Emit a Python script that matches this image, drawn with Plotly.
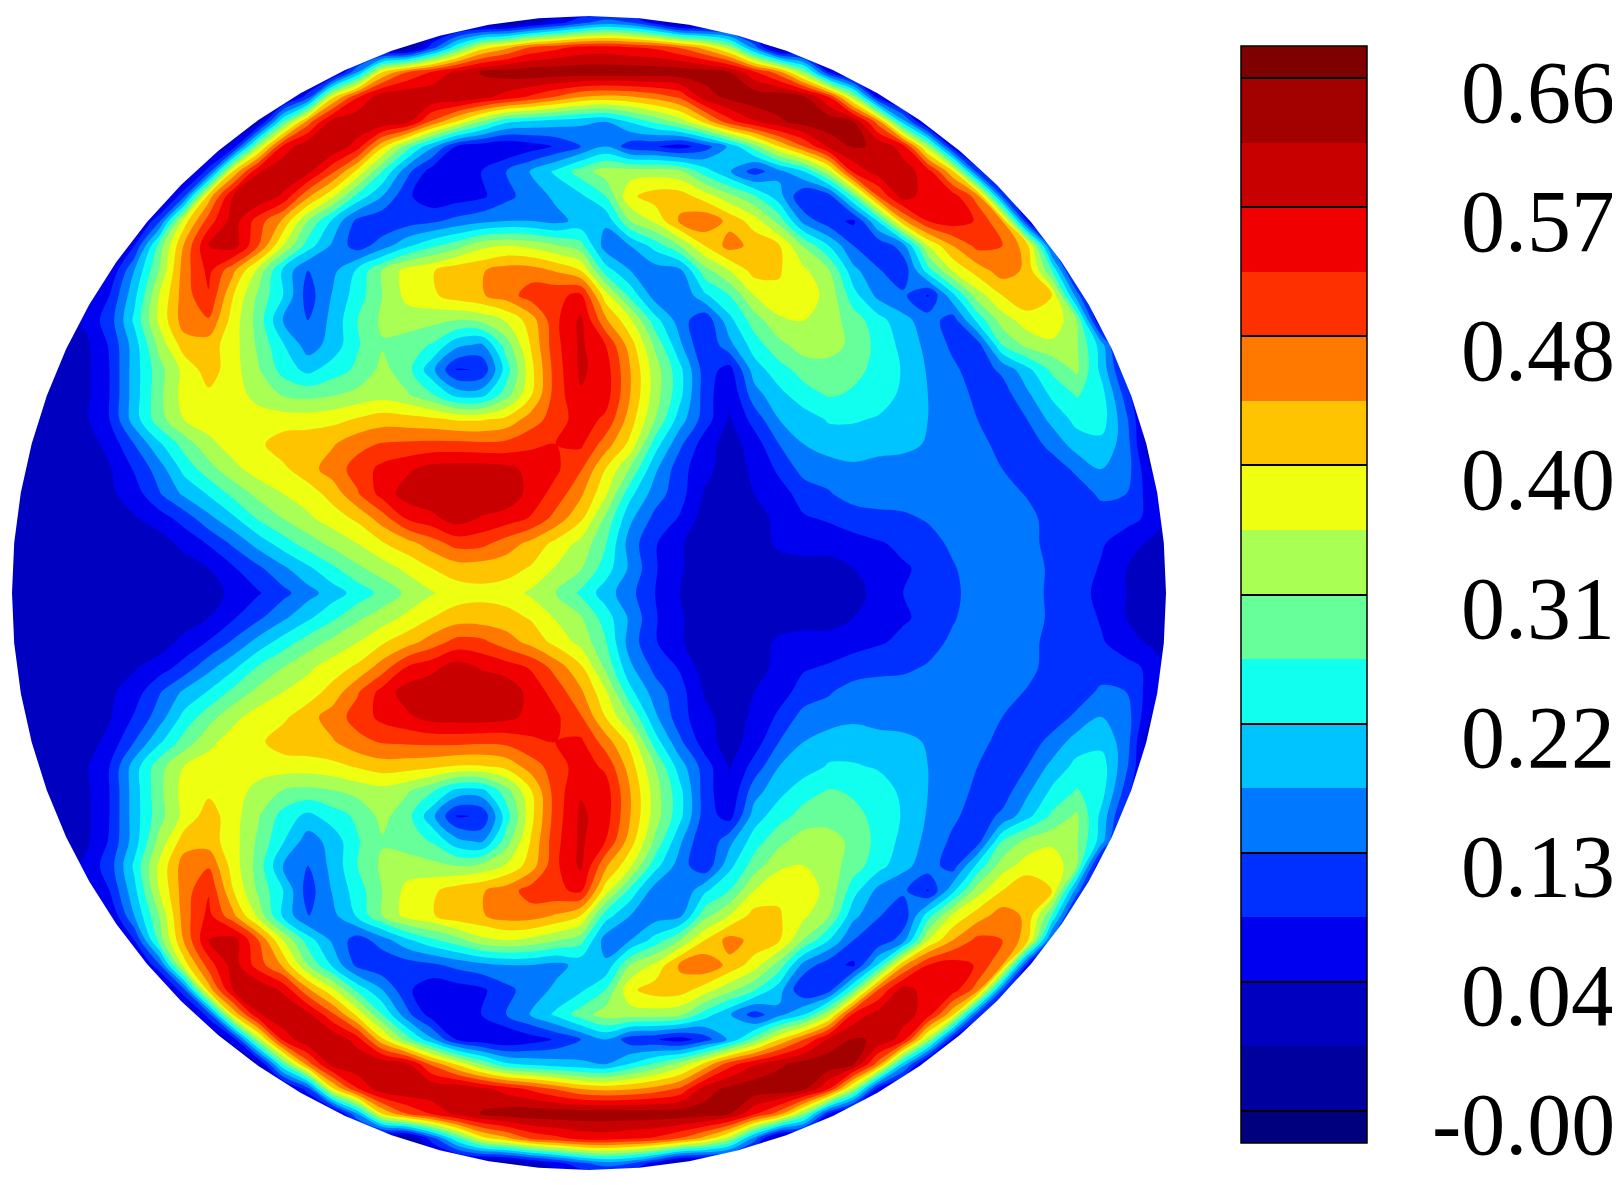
import numpy as np
import plotly.graph_objects as go

# colour band read at each grid node (0 = darkest blue ... 17 = darkest red),
# upper half of the disk from the symmetry axis upwards; one row every 24.8 px
r00 = [2,2,2,2,2,2,2,2,2.1,2.75,3.4,4.2,5.1,6,6.9,7.8,8.7,9.4,10,10.2,10,9.3,8.5,7.3, 6,4.8,3.5,2.5,2,2,2,2,2,2,2,2.95,3.5,4,4.4,4.7,5,4.9,4.3,3.9,3.2,2.5,2,2]
r01 = [2,2,2,2,2,2,2,2,2.5,3.4,4.3,5.3,6.3,7.3,8.3,9,9.75,10.5,11,11,10.9,10.4,9.4,8.6, 7,5.3,3.6,2.6,2,2,2,2,2,2,2.5,3,3.4,3.7,4.4,5,5,5,4.3,4,3.4,2.5,2,2]
r02 = [2,2,2,2,2,2,2,2.8,3.6,4.7,5.9,7,8,8.8,9.5,10.4,11.1,12,12.9,12.8,12,11.2,10.2,9.2, 7.6,5,3.6,2.6,2,2,2,2.7,3,3,3.2,3.4,3.7,4.1,4.7,5,5,4.9,4.1,4,3.6,3,2.3,2]
r03 = [2,2,2,2,2,2.4,3,3.9,5.2,6.3,7.6,8.5,9.3,10,10.7,12,13.6,14.2,15,14.4,14,13.4,12.1,10.7, 8.3,5.7,4.2,3.4,2,2,2.2,2.7,3.4,3.6,3.9,4.2,4.3,4.6,5,5,5,4.9,4,4,4,3.8,3.3,2]
r04 = [2,2,2,2,2.3,3,4.4,5.7,6.6,7.8,8.8,9.5,10,10.9,12.4,13.9,15,15.3,15.3,15.3,15.3,14.1,13.1,11.7, 9.7,6.8,5,3.9,2.4,2,2.5,3.1,3.9,4.4,5,5,5,5,5,5,5,4.4,4,4,4.7,4.5,3,2]
r05 = [2,2,2,2,2.4,3.6,5,6.8,8.1,9.2,10,10.3,11.1,12,12.9,13.8,14.3,14.9,15,15,14.8,14.2,13.7,12.6, 10.5,8.4,5.7,3.9,2.8,2,2.7,3.7,4.9,5,5.3,5,5,5,5,5,4.5,4,4,4.7,5.5,5,2.5,2]
r06 = [2,2,2,2,2.8,4.5,6.3,7.9,9.2,10,10.3,11,11.2,11.4,12.2,12.6,12.7,12.8,12.8,12.7,12.8,13.3,13.5,13.7, 12,10.2,7,4.7,3,2,3,4.5,5.5,6,6,6,5.8,5.4,5,4.8,4.2,4,4.8,6,6.2,5,1.5,1]
r07 = [2,2,2,2.3,3.5,6,8.1,9.5,10,10,10,10,10,10.2,10.6,11,10.9,10.7,10.4,10.4,10.8,12,13,14, 13.3,11,8.5,6,4,2.4,3.9,5.5,6,6.6,6.6,6.4,6,5.5,5,4.5,4,4.5,5.8,6.8,7,4.7,1.5,1]
r08 = [2,2,2,2.2,3.5,6,8.2,9.9,10.3,10,9.1,8.4,8.2,8.4,8.8,9.1,8.6,7.6,6.1,6.1,8,10.4,13,14.4, 14,11.5,9,6.8,4,2.6,5.1,6.2,7.1,7.6,7.4,7,6.3,5.5,4.9,4.3,4,5.3,6.7,7.6,6.9,4,1,1]
r09 = [2,2,2,2.2,3.5,6,8.1,9.8,11,9.9,8.6,7.1,6.2,7,7.7,8.8,7.9,5.8,3.4,3.6,7,10.2,13,14.7, 14,11.5,9,6.8,4,3.1,6,7.1,7.9,8,7.7,7.3,6.4,5.4,4.7,4,4.7,6.2,7.7,8.7,6.2,3,1,1]
r10 = [2,2,2,2.2,3.6,6,8.8,11,11,9.9,8.3,6.6,5,5.9,7.4,8.4,8,7.4,5.8,5.3,8,10.6,13.2,14.7, 13.5,11,8.3,5.7,3.5,5.2,7,8.2,9,9,8.2,7.2,6.2,5.2,4.3,4,7.5,8.8,9.2,8.6,6,1.5,1,1]
r11 = [2,2,2,2.7,4,6.7,9.7,12,12.4,10,8.1,5.4,4.5,5.8,7.5,8.7,9,8.8,8.5,8.8,9.6,11,13.3,14.7, 11.7,9.7,6.9,5,3.7,6.2,8,9.3,9.5,9,8,6.9,5.8,5,4,6.8,9,10,10.4,8.5,2,1,1,1]
r12 = [2,2,2,2,3.5,6.2,9.5,12,13.4,10.5,8.3,6.5,4,5.6,7,8.5,9.8,10.3,11,11.4,12,13,13.3,13.7, 10,7.2,5,4.5,6.3,7.5,9.5,10.3,10,9.2,6.9,5.2,4.7,3.4,6.2,9,10.5,11.3,10.5,5,1,1,1,1]
r13 = [2,2,2,2,2.5,5.5,8.5,12,13.8,11.7,9.2,6.3,4.4,5.2,6.7,8.5,9.9,10.4,11.2,11.4,12,12,11.4,10.5, 7,5.5,5,5.2,8.1,9.5,10.9,10.6,9.7,8.6,5.8,4.6,3.8,7,9.6,11,12,11.3,7.5,2,1,1,1,1]
r14 = [2,2,2,2,2,3.5,7.9,11.6,14.5,15,12.5,9.5,7,5.3,4,5,6.3,7.3,8.1,9.2,9.5,9.2,8.6,7.9, 5,5.5,6.9,8.5,10.5,11.9,11.2,10.6,8.4,6.5,4.5,3.7,5,9.5,11.5,12.8,12.5,11,4,1,1,1,1,1]
r15 = [1.5,1.5,1.5,1.5,1.5,1.5,4.3,10,13,15,13,11.3,8.5,6.3,4.2,3.7,4,4.3,4.8,5.2,5.5,5.5,5.2,5.8, 5.7,8.5,9.7,11.7,12.3,11.2,10,8.1,5.1,3.9,3.3,6.6,11.3,13.5,14,13.4,11.5,3.5,1,1,1,1,1,1]
r16 = [1,1,1,1,1,1,1,4.3,11,14.6,15.4,14.3,11.7,9.7,7.2,5.5,3.7,2.8,3,3.3,4.2,5,5.7,6.3, 7.5,10.3,11,11,10,8.8,7.6,5.9,3.5,4,7.7,12.5,15,14,14,12,4.5,1,1,1,1,1,1,1]
r17 = [1,1,1,1,1,1,1,1,4,10.7,14.4,15.4,14.8,12.7,10.2,7.5,4.8,3,3,3.5,4.5,5.6,6.7,8, 9,9,9,8.7,7,5.6,4,5.2,6.5,9.2,13.8,15,15,14,10.7,4,1,1,1,1,1,1,1,1]
r18 = [1,1,1,1,1,1,1,1,1,3,9,13.8,15.4,15.4,14,10.7,8,5.7,3.4,2.8,2.5,3,3.6,4.5, 5.5,3.9,3.6,3,4,5.7,8,10.5,12.5,14.7,15.6,15.4,14,9,3,1,1,1,1,1,1,1,1,1]
r19 = [1,1,1,1,1,1,1,1,1,1,2,7.5,12,15,15.4,15.4,14.8,12.3,10.4,8.4,6.7,6.3,6,5.7, 5.5,6.6,7.7,8.9,10.8,13.1,14.4,15.3,16,16.2,15.5,12,6,1.5,1,1,1,1,1,1,1,1,1,1]
r20 = [1,1,1,1,1,1,1,1,1,1,1,1.5,4,10.3,13.4,15.2,15.4,15.4,15.4,14.8,14.1,13.3,12.4,11.5, 11.2,11.4,11.9,12.7,15,15.8,16.2,16.2,15.7,13.5,9,3,1,1,1,1,1,1,1,1,1,1,1,1]
r21 = [1,1,1,1,1,1,1,1,1,1,1,1,1,1.5,5.5,10.5,12.5,13.6,14.8,15.6,16,16.2,16.2,16.2, 16.2,16.2,16.2,16.2,16,15.5,13.7,12,8.5,3.5,1,1,1,1,1,1,1,1,1,1,1,1,1,1]
r22 = [1,1,1,1,1,1,1,1,1,1,1,1,1,1,1,1,1,4,7.2,10,11.2,12.6,13.2,13.8, 13.9,13.6,13.3,12.4,11.1,9,5,1,1,1,1,1,1,1,1,1,1,1,1,1,1,1,1,1]
r23 = [1,1,1,1,1,1,1,1,1,1,1,1,1,1,1,1,1,1,1,1,1,2,3,4.2, 5,4.5,3,1,1,1,1,1,1,1,1,1,1,1,1,1,1,1,1,1,1,1,1,1]
r24 = [1] * 48
upper_half = [r00, r01, r02, r03, r04, r05, r06, r07, r08, r09, r10, r11, r12,
              r13, r14, r15, r16, r17, r18, r19, r20, r21, r22, r23, r24]
for row in upper_half:
    assert len(row) == 48

band_colors = ['#00007f', '#00009f', '#0000c0', '#0000f0', '#0030ff', '#0078ff',
               '#00c4ff', '#11ffee', '#66ff99', '#aaff55', '#eeff11', '#ffc400',
               '#ff7800', '#ff3000', '#f00000', '#c80000', '#a30000', '#7f0000']
tick_labels = ['0.66', '0.57', '0.48', '0.40', '0.31', '0.22', '0.13', '0.04', '-0.00']
level_top = 0.66
level_size = 0.0443

# geometry of the reference, in its own pixels; the page body adds 8 px top and left
BODY = 8
PAGE_W, PAGE_H = 1620, 1185
FIG_W, FIG_H = PAGE_W - BODY, PAGE_H - 2 * BODY
CX, CY, RADIUS = 589, 593, 577
GRID_X0, GRID_Y0, GRID_STEP = 10.3, 593.0, 24.8
BAR_LEFT, BAR_WIDTH, BAR_TOP, BAR_HEIGHT = 1241, 126, 46, 1097
LABEL_RIGHT, LABEL_DROP = 1617, 14


def paper_x(px):
    return (px - BODY) / FIG_W


def paper_y(px):
    return 1 - (px - BODY) / FIG_H


level_start = level_top - 16 * level_size
band_rows = np.array(upper_half)
band_full = np.vstack([band_rows[::-1], band_rows[1:]])
z = level_start + (band_full - 0.5) * level_size
x = GRID_X0 + GRID_STEP * np.arange(band_full.shape[1])
y = GRID_Y0 + GRID_STEP * (np.arange(band_full.shape[0]) - 24)

fig = go.Figure(go.Contour(
    x=x, y=y, z=z,
    autocontour=False,
    contours=dict(start=level_start, end=level_top, size=level_size,
                  coloring='fill', showlines=False),
    line=dict(width=0, smoothing=1.0),
    colorscale=[[i / 17, c] for i, c in enumerate(band_colors)],
    colorbar=dict(
        xref='paper', yref='paper', x=paper_x(BAR_LEFT), xanchor='left',
        y=paper_y(BAR_TOP), yanchor='top',
        lenmode='pixels', len=BAR_HEIGHT,
        thickness=BAR_WIDTH, thicknessmode='pixels',
        xpad=0, ypad=0,
        outlinecolor='black', outlinewidth=1.5,
        ticks='inside', ticklen=BAR_WIDTH, tickwidth=1.5, tickcolor='black',
        tickmode='array',
        tickvals=[level_top - 2 * i * level_size for i in range(len(tick_labels))],
        showticklabels=False,
    ),
    hoverinfo='skip',
))

# white mask so the field stops at the faceted rim of the disk
angles = np.linspace(0, 2 * np.pi, 72, endpoint=False)
rim = ' '.join(f'L{CX + RADIUS * np.cos(a):.1f},{CY + RADIUS * np.sin(a):.1f}' for a in angles)
rim = 'M' + rim[1:] + ' Z'
fig.add_shape(type='path', layer='above', fillrule='evenodd', fillcolor='white',
              line=dict(width=0), xref='x', yref='y',
              path=f'M-20,-20 L1225,-20 L1225,1205 L-20,1205 Z {rim}')

for i, label in enumerate(tick_labels):
    line_y = BAR_TOP + 32 + i * 129
    fig.add_annotation(
        text=label, xref='paper', yref='paper', showarrow=False,
        x=paper_x(LABEL_RIGHT), xanchor='right',
        y=paper_y(line_y + LABEL_DROP), yanchor='middle',
        font=dict(family='Liberation Serif', size=88, color='black'),
    )

fig.update_layout(
    width=FIG_W, height=FIG_H,
    margin=dict(l=0, r=0, t=0, b=0),
    paper_bgcolor='white', plot_bgcolor='white',
    xaxis=dict(visible=False, range=[BODY, PAGE_W], domain=[0, 1]),
    yaxis=dict(visible=False, range=[PAGE_H - BODY, BODY], domain=[0, 1]),
    showlegend=False,
)
fig.write_html("out.html")
